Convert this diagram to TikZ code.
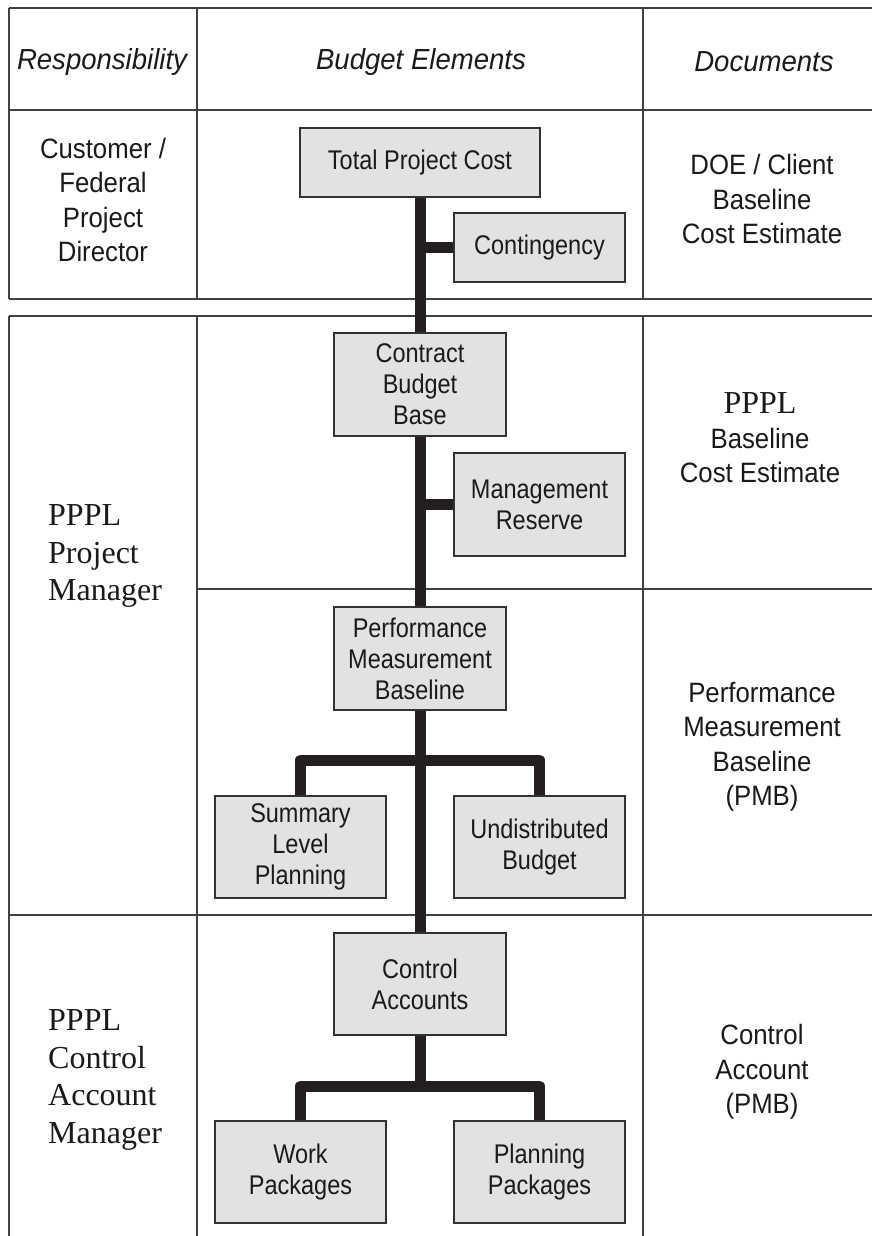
\documentclass[tikz,border=0pt]{standalone}
\usepackage{fontspec}
\setmainfont{Liberation Sans}
\newfontfamily\boxfont[FakeStretch=0.87]{Liberation Sans}
\newfontfamily\labfont[FakeStretch=0.92]{Liberation Sans}
\newfontfamily\hdrfont[FakeStretch=0.95]{Liberation Sans}
\newfontfamily\serf{Liberation Serif}
\definecolor{tabgray}{HTML}{404040}
\definecolor{boxborder}{HTML}{333333}
\definecolor{boxfill}{HTML}{E1E2E4}
\definecolor{connblack}{HTML}{231F20}
\definecolor{txt}{HTML}{1A1A1A}
\begin{document}
\begin{tikzpicture}[x=1pt,y=-1pt,
  grid/.style={draw=tabgray, line width=1.6pt},
  box/.style={draw=boxborder, fill=boxfill, line width=1.4pt, inner sep=0pt, align=center,
    text=txt, font=\boxfont\fontsize{27}{31}\selectfont},
  conn/.style={draw=connblack, line width=11pt, line join=round},
  hdr/.style={inner sep=0pt, text=txt, font=\hdrfont\fontsize{29}{30}\selectfont\itshape},
  lab/.style={inner sep=0pt, align=center, text=txt, font=\labfont\fontsize{28}{34.5}\selectfont},
  slab/.style={inner sep=0pt, align=left, anchor=west, text=txt, font=\serf\fontsize{32}{37.5}\selectfont}]
\useasboundingbox (0,0) rectangle (872,1236);
\fill[white] (0,0) rectangle (872,1236);

% table section 1
\draw[grid] (9,8) -- (872,8);
\draw[grid] (9,110) -- (872,110);
\draw[grid] (9,299) -- (872,299);
\draw[grid] (9,8) -- (9,299);
\draw[grid] (197,8) -- (197,299);
\draw[grid] (643,8) -- (643,299);
% table section 2
\draw[grid] (9,316) -- (872,316);
\draw[grid] (197,589) -- (872,589);
\draw[grid] (9,915) -- (872,915);
\draw[grid] (9,316) -- (9,1236);
\draw[grid] (197,316) -- (197,1236);
\draw[grid] (643,316) -- (643,1236);

% headers
\node[hdr] (h1) at (102,62) {Responsibility};
\node[hdr] (h2) at (421,62) {Budget Elements};
\node[hdr] (h3) at (764,62) {Documents};

% left column
\node[lab] (r1) at (103,200) {Customer /\\Federal\\Project\\Director};
\node[slab] (r2) at (48,556) {PPPL\\Project\\Manager};
\node[slab] (r3) at (48,1080) {PPPL\\Control\\Account\\Manager};

% right column
\node[lab] (d1) at (762,199) {DOE / Client\\Baseline\\Cost Estimate};
\node[lab] (d2) at (760,438) {{\serf\fontsize{32}{35}\selectfont PPPL}\\Baseline\\Cost Estimate};
\node[lab] (d3) at (762,747) {Performance\\Measurement\\Baseline\\(PMB)};
\node[lab] (d4) at (762,1072) {Control\\Account\\(PMB)};

% boxes
\node[box, minimum width=240pt, minimum height=69pt] (tpc) at (420,162.5) {Total Project Cost};
\node[box, minimum width=171pt, minimum height=69pt] (cont) at (539.5,247.5) {Contingency};
\node[box, minimum width=172pt, minimum height=103pt] (cbb) at (420,384.5) {Contract\\Budget\\Base};
\node[box, minimum width=171pt, minimum height=103pt] (mr) at (539.5,504.5) {Management\\Reserve};
\node[box, minimum width=172pt, minimum height=103pt] (pmb) at (420,658.5) {Performance\\Measurement\\Baseline};
\node[box, minimum width=171pt, minimum height=102pt] (slp) at (300.5,847) {Summary\\Level\\Planning};
\node[box, minimum width=171pt, minimum height=102pt] (ub) at (539.5,847) {Undistributed\\Budget};
\node[box, minimum width=172pt, minimum height=102pt] (ca) at (420,984) {Control\\Accounts};
\node[box, minimum width=171pt, minimum height=102pt] (wp) at (300.5,1172) {Work\\Packages};
\node[box, minimum width=171pt, minimum height=102pt] (pp) at (539.5,1172) {Planning\\Packages};

% connectors
\coordinate (pmbbar) at (420,760);
\coordinate (cabar) at (420,1086);
\draw[conn] (tpc.south) -- (cbb.north);
\draw[conn] (tpc.south |- cont.west) -- (cont.west);
\draw[conn] (cbb.south) -- (pmb.north);
\draw[conn] (cbb.south |- mr.west) -- (mr.west);
\draw[conn] (pmb.south) -- (ca.north);
\draw[conn] (slp.north) |- (pmbbar) -| (ub.north);
\draw[conn] (ca.south) -- (cabar);
\draw[conn] (wp.north) |- (cabar) -| (pp.north);
\end{tikzpicture}
\end{document}
